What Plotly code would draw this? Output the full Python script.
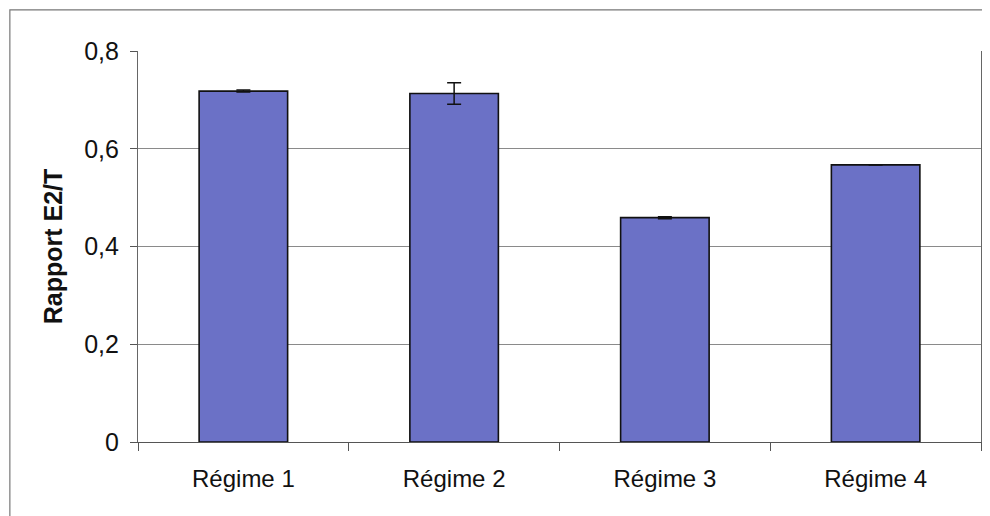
from plotly import graph_objects as go

regimes = ["Régime 1", "Régime 2", "Régime 3", "Régime 4"]
rapport_e2t = [0.718, 0.713, 0.459, 0.567]
erreur = [0.002, 0.022, 0.002, 0.0]

y_ticks = [0, 0.2, 0.4, 0.6, 0.8]
y_tick_labels = ["0", "0,2", "0,4", "0,6", "0,8"]

fig = go.Figure()

fig.add_trace(
    go.Bar(
        x=regimes,
        y=rapport_e2t,
        width=0.42,
        marker=dict(color="#6b71c6", line=dict(color="#111111", width=1.6)),
        error_y=dict(type="data", array=erreur, visible=True,
                     color="#111111", thickness=1.5, width=7),
        showlegend=False,
    )
)

# outer chart frame
fig.add_shape(type="rect", xref="paper", yref="paper",
              x0=-0.152, x1=1.2, y0=-0.4, y1=1.105,
              line=dict(color="#777777", width=1.2), layer="below")

# the page body adds 8px, margins are set so the plot area lands where it should
fig.update_layout(
    width=990,
    height=516,
    margin=dict(l=130, r=17, t=43, b=82),
    paper_bgcolor="white",
    plot_bgcolor="white",
    separators=", ",
    font=dict(family="Arial, Liberation Sans, sans-serif", size=24, color="#111111"),
)

fig.update_xaxes(
    showline=True, linecolor="#555555", linewidth=1.2,
    ticks="outside", tickson="boundaries", ticklen=8, tickcolor="#555555",
    showgrid=False, tickfont=dict(size=24), ticklabelstandoff=15,
    automargin=False,
)

fig.update_yaxes(
    range=[0, 0.8],
    tickvals=y_ticks, ticktext=y_tick_labels,
    showline=True, mirror=True, linecolor="#666666", linewidth=1.2,
    ticks="outside", ticklen=7, tickcolor="#555555",
    showgrid=True, gridcolor="#8a8a8a", gridwidth=1.1,
    zeroline=False,
    tickfont=dict(size=25), ticklabelstandoff=6,
    automargin=False,
    title=dict(text="<b>Rapport E2/T</b>", font=dict(size=25), standoff=14),
)

fig.write_html("out.html")
